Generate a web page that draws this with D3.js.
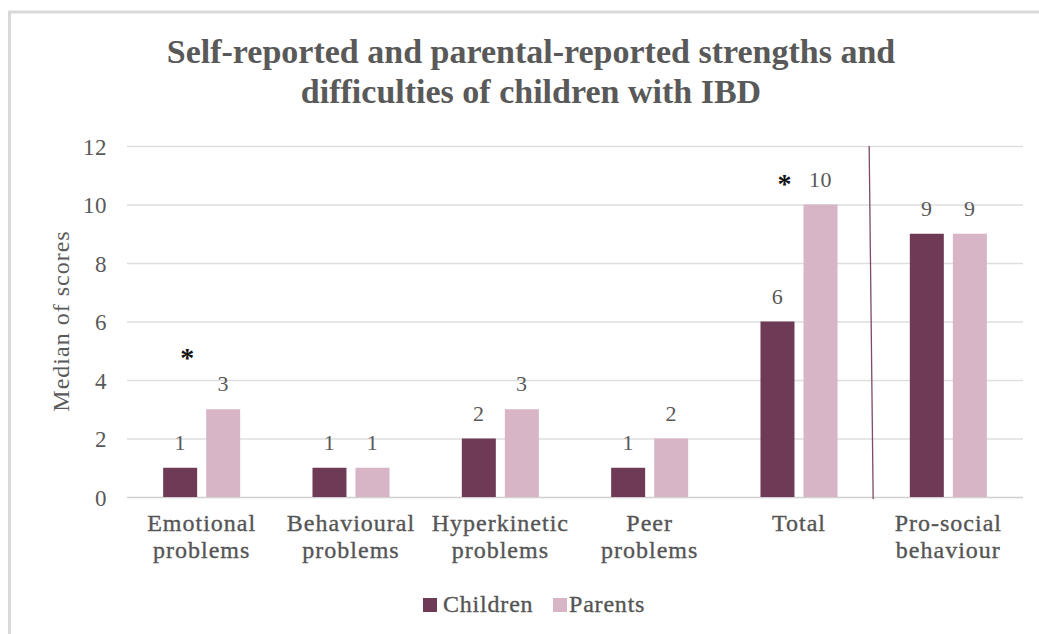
<!DOCTYPE html>
<html>
<head>
<meta charset="utf-8">
<script src="https://cdn.jsdelivr.net/npm/d3@7"></script>
</head>
<body style="margin:0;background:#fff">
<svg id="chart" width="1039" height="634" font-family="Liberation Serif" style="display:block"></svg>
<script>
// ---- data ----
const categories = [
  ["Emotional", "problems"],
  ["Behavioural", "problems"],
  ["Hyperkinetic", "problems"],
  ["Peer", "problems"],
  ["Total"],
  ["Pro-social", "behaviour"]
];
const seriesNames = ["Children", "Parents"];
const childrenValues = [1, 1, 2, 1, 6, 9];
const parentsValues = [3, 1, 3, 2, 10, 9];
const significance = [4.9, null, null, null, 10.85, null]; // level of "*" marker
const yTicks = [0, 2, 4, 6, 8, 10, 12];
const titleLines = ["Self-reported and parental-reported strengths and", "difficulties of children with IBD"];
const yLabel = "Median of scores";

// ---- layout ----
const FONT = "Liberation Serif";
const W = 1039, H = 634;
const plot = { left: 127, right: 1023, top: 146, bottom: 497 };
const colors = { Children: "#6f3a56", Parents: "#d8b4c7" };
const textGray = "#595959";

const svg = d3.select("#chart");

// frame
svg.append("path")
  .attr("d", `M9.5,${H} L9.5,12 L${W},12`)
  .attr("fill", "none").attr("stroke", "#d9d9d9").attr("stroke-width", 3);

const catKeys = categories.map((c, i) => i);
const x = d3.scaleBand().domain(catKeys).range([plot.left, plot.right]).padding(0);
const xs = d3.scaleBand().domain(seriesNames).range([0, x.bandwidth()])
  .paddingInner(0.21).paddingOuter(0.84);
const y = d3.scaleLinear().domain([0, 12]).range([plot.bottom, plot.top]);

// gridlines
svg.append("g").selectAll("line").data(yTicks).join("line")
  .attr("x1", plot.left).attr("x2", plot.right)
  .attr("y1", d => y(d) + 0.5).attr("y2", d => y(d) + 0.5)
  .attr("stroke", d => d === 0 ? "#d0d0d0" : "#dedede").attr("stroke-width", 1.5);

// y axis tick labels via d3 axis
const yAxis = d3.axisLeft(y).tickValues(yTicks).tickSize(0).tickPadding(0);
const gy = svg.append("g").attr("transform", `translate(${plot.left - 20},0)`).call(yAxis);
gy.attr("font-family", FONT).attr("font-size", 23);
gy.select(".domain").remove();
gy.selectAll("text")
  .attr("font-family", FONT).attr("font-size", 23).attr("letter-spacing", 0.5)
  .attr("fill", textGray).attr("dy", "0.35em");

// y label
svg.append("text")
  .attr("transform", `translate(69,321) rotate(-90)`)
  .attr("text-anchor", "middle").attr("font-family", FONT)
  .attr("font-size", 24).attr("letter-spacing", 1).attr("fill", textGray)
  .text(yLabel);

// bars
const rows = catKeys.map(i => ({ i, Children: childrenValues[i], Parents: parentsValues[i] }));
const groups = svg.append("g").selectAll("g").data(rows).join("g")
  .attr("transform", d => `translate(${x(d.i)},0)`);

groups.selectAll("rect").data(d => seriesNames.map(s => ({ s, v: d[s] }))).join("rect")
  .attr("x", d => xs(d.s)).attr("width", xs.bandwidth())
  .attr("y", d => y(d.v)).attr("height", d => y(0) - y(d.v))
  .attr("fill", d => colors[d.s]);

// value labels
groups.selectAll("text.val").data(d => seriesNames.map(s => ({ s, v: d[s] }))).join("text")
  .attr("class", "val")
  .attr("x", d => xs(d.s) + xs.bandwidth() / 2)
  .attr("y", d => y(d.v) - 18)
  .attr("text-anchor", "middle").attr("font-family", FONT)
  .attr("font-size", 22).attr("letter-spacing", 0.5).attr("fill", textGray)
  .text(d => d.v);

// significance stars
svg.append("g").selectAll("text").data(catKeys.filter(i => significance[i] != null)).join("text")
  .attr("x", i => x(i) + xs("Children") + xs.bandwidth() / 2 + 7)
  .attr("y", i => y(significance[i]) + 13)
  .attr("text-anchor", "middle").attr("font-family", FONT)
  .attr("font-size", 28).attr("font-weight", "bold").attr("fill", "#111")
  .text("*");

// separator line between Total and Pro-social
const sepX = x(5);
svg.append("line")
  .attr("x1", sepX - 4.5).attr("y1", y(12))
  .attr("x2", sepX - 0.5).attr("y2", y(0) + 2)
  .attr("stroke", "#7e4a66").attr("stroke-width", 1.3);

// category labels
const catG = svg.append("g").selectAll("text").data(catKeys).join("text")
  .attr("x", i => x(i) + x.bandwidth() / 2)
  .attr("y", 531)
  .attr("text-anchor", "middle").attr("font-family", FONT)
  .attr("font-size", 24).attr("letter-spacing", 1)
  .attr("fill", "#555").attr("stroke", "#555").attr("stroke-width", 0.35);
catG.selectAll("tspan").data(i => categories[i]).join("tspan")
  .attr("x", function () { return d3.select(this.parentNode).attr("x"); })
  .attr("dy", (d, j) => j === 0 ? 0 : 27)
  .text(d => d);

// title (fit first line to reference width)
const titleSel = svg.append("g").selectAll("text").data(titleLines).join("text")
  .attr("x", 531).attr("y", (d, i) => 63 + i * 40)
  .attr("text-anchor", "middle").attr("font-family", FONT)
  .attr("font-size", 30).attr("font-weight", "bold")
  .attr("fill", textGray)
  .text(d => d);
const w0 = titleSel.node().getComputedTextLength();
if (w0 > 0) {
  const fs = Math.max(26, Math.min(34, 30 * 750 / w0));
  titleSel.attr("font-size", fs);
}

// legend
const legendItems = [
  { name: "Children", sx: 423, tx: 443 },
  { name: "Parents", sx: 553, tx: 569 }
];
const lg = svg.append("g");
lg.selectAll("rect").data(legendItems).join("rect")
  .attr("x", d => d.sx).attr("y", 598).attr("width", 14).attr("height", 14)
  .attr("fill", d => colors[d.name]);
lg.selectAll("text").data(legendItems).join("text")
  .attr("x", d => d.tx).attr("y", 612).attr("font-family", FONT)
  .attr("font-size", 24).attr("letter-spacing", 0.8)
  .attr("fill", "#555").attr("stroke", "#555").attr("stroke-width", 0.35)
  .text(d => d.name);
</script>
</body>
</html>
